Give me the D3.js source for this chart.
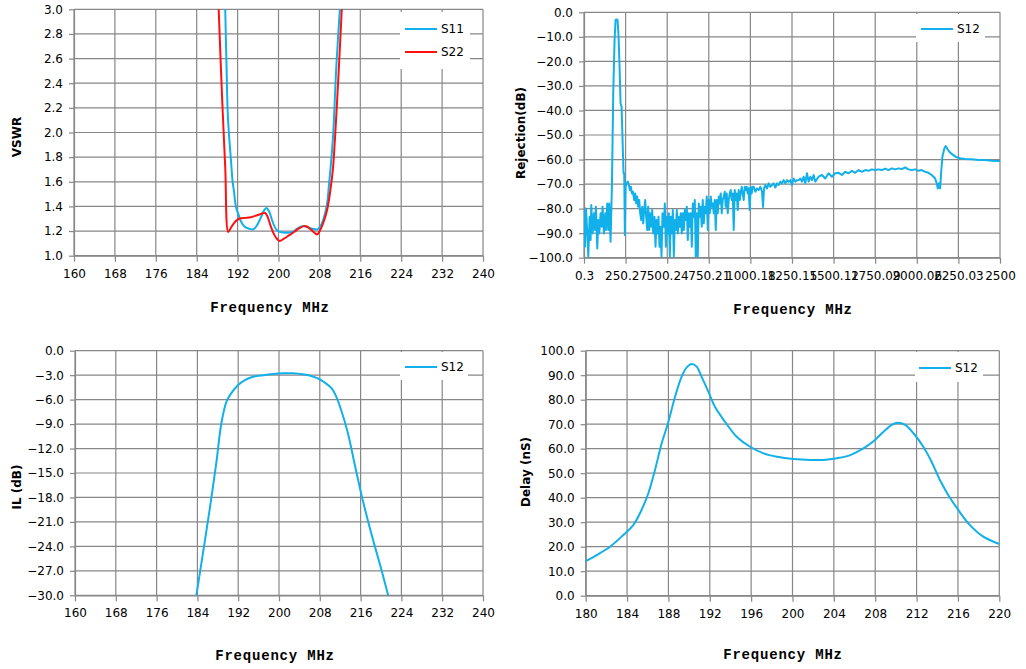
<!DOCTYPE html>
<html><head><meta charset="utf-8">
<script src="https://cdn.jsdelivr.net/npm/d3@7"></script>
<style>
body{margin:0;background:#fff;}
svg{display:block;}
.tick text{font-family:"DejaVu Sans",Verdana,sans-serif;font-size:12px;fill:#000;}
.ytitle{font-family:"DejaVu Sans",Verdana,sans-serif;font-size:12px;font-weight:bold;fill:#000;}
.xtitle{font-family:"Liberation Mono","DejaVu Sans Mono",monospace;font-size:14px;font-weight:bold;fill:#000;letter-spacing:0.8px;}
.leg{font-family:"DejaVu Sans",Verdana,sans-serif;font-size:12px;fill:#000;}
</style>
</head><body>
<svg id="c" width="1026" height="669"></svg>
<script>
// ---------- DATA ----------
// VSWR chart
const vswrS11Freq = [189.58,189.84,190.1,190.8,191.0,191.34,191.66,192.18,192.64,193.29,194.26,195.04,195.69,196.53,197.18,197.64,198.16,198.81,199.45,200.1,201.4,202.7,203.68,204.65,205.62,206.6,207.57,208.22,208.87,209.52,209.84,210.2,210.7,211.3,212.0];
const vswrS11Val  = [3.0,2.53,2.13,1.72,1.61,1.507,1.40,1.333,1.28,1.24,1.219,1.213,1.24,1.307,1.368,1.387,1.36,1.28,1.219,1.195,1.187,1.192,1.219,1.24,1.232,1.219,1.213,1.24,1.307,1.427,1.56,1.72,1.99,2.53,3.0];
const vswrS22Freq = [188.3,188.99,189.58,190.17,190.69,191.34,192.0,192.64,193.6,194.58,195.56,196.53,197.38,197.83,198.48,199.13,199.78,200.23,201.08,202.05,203.03,204.0,204.97,205.62,206.47,207.25,207.57,208.22,208.87,209.52,209.97,210.4,210.68,211.47,212.38];
const vswrS22Val  = [3.0,2.26,1.72,1.192,1.227,1.267,1.293,1.304,1.307,1.312,1.325,1.339,1.347,1.32,1.24,1.173,1.133,1.12,1.139,1.165,1.192,1.221,1.24,1.235,1.208,1.179,1.173,1.213,1.28,1.373,1.48,1.613,1.72,2.26,3.0];
const vswrXTicks = [160,168,176,184,192,200,208,216,224,232,240];
const vswrYTicks = [1.0,1.2,1.4,1.6,1.8,2.0,2.2,2.4,2.6,2.8,3.0];

// Rejection chart
const rejFreq = [0.3,6,12,20,26,34,40,44,52,60,66,72,80,86,92,100,106,112,120,128,132,140,146,152,160,168,176,184,190,196,202,208,214,220,226,232,238,242,246,250,256,264,270,276,
282,288,294,302,308,314,320,326,332,338,344,350,356,362,368,374,380,386,392,398,404,410,416,424,430,436,442,448,454,460,466,472,480,486,492,498,504,510,516,522,528,534,540,546,552,558,564,570,576,582,588,594,600,606,612,618,624,630,636,642,648,654,660,666,672,678,684,690,696,702,708,714,720,726,732,738,744,750,756,762,768,774,780,786,792,798,804,810,816,822,828,834,840,846,852,858,864,870,876,882,888,894,900,906,912,918,924,930,936,942,948,954,960,966,972,978,984,990,996,1002,1008,1014,
1020,1030,1040,1050,1060,1070,1076,1082,1090,1100,1110,1120,1130,1140,1150,1160,1170,1180,1190,1200,1210,1220,1230,1240,1250,1260,1270,1280,1290,1300,1310,1320,1330,1340,1350,1360,1370,1380,1390,1410,1430,1450,1470,1490,1510,1530,1550,1570,1590,1610,1630,1650,1670,1690,1710,1730,1750,1770,1790,1810,1830,1850,1870,1890,1910,1930,1950,1970,1990,2010,2030,2050,2070,2090,2110,2120,2126,2134,2140,2146,2154,2166,2174,2186,2200,2220,2240,2260,2290,2330,2370,2410,2450,2490,2500];
const rejVal = [-80.6,-95.5,-79.9,-90.1,-99.5,-83.3,-92.8,-78.5,-90.1,-81.9,-88.7,-79.2,-96.2,-84.6,-90.1,-81.9,-87.4,-79.2,-90.1,-81.9,-88.7,-77.9,-88.7,-77.9,-93.5,-71.1,-33.0,-11.3,-3.1,-2.9,-3.1,-9.9,-22.1,-37.1,-38.5,-52.0,-65.6,-65.6,-90.8,-71.1,-69.7,-69.0,-70.4,-72.4,
-71.1,-73.8,-73.1,-76.5,-73.8,-77.9,-75.1,-79.2,-76.5,-81.9,-84.6,-79.2,-86.0,-80.6,-76.5,-83.3,-88.7,-79.2,-88.7,-81.9,-87.4,-80.6,-90.1,-83.3,-95.5,-84.6,-90.1,-83.3,-95.5,-87.4,-99.5,-81.9,-87.4,-77.9,-95.5,-83.3,-90.1,-81.9,-99.5,-83.3,-90.1,-80.6,-99.5,-84.6,-88.7,-80.6,-90.1,-83.3,-87.4,-81.9,-90.1,-81.9,-88.7,-80.6,-84.6,-79.2,-92.8,-81.9,-87.4,-81.9,-95.5,-77.9,-83.3,-76.5,-99.5,-81.9,-99.5,-77.9,-83.3,-79.2,-87.4,-76.5,-86.0,-79.2,-81.9,-75.1,-88.7,-76.5,-81.9,-75.1,-79.2,-77.9,-81.9,-76.5,-88.7,-76.5,-81.9,-75.1,-77.9,-73.8,-81.9,-76.5,-75.1,-73.1,-79.2,-73.8,-81.9,-76.5,-73.8,-72.4,-76.5,-73.8,-88.7,-72.4,-76.5,-73.8,-80.6,-72.4,-76.5,-73.8,-71.1,-73.8,-76.5,-71.1,-72.4,-71.1,-73.8,-71.7,-80.6,-71.1,-73.8,-71.1,
-71.1,-73.1,-71.8,-72.4,-71.1,-73.1,-79.3,-71.8,-70.4,-71.8,-69.7,-71.1,-70.4,-69.7,-71.4,-69.7,-70.4,-69.0,-69.7,-68.4,-69.7,-68.4,-69.0,-68.4,-70.4,-67.7,-69.0,-68.4,-68.4,-67.7,-69.0,-67.0,-69.7,-65.6,-69.0,-67.0,-68.4,-66.3,-69.0,-67.0,-66.3,-67.7,-65.6,-67.0,-65.6,-65.4,-66.3,-65.0,-65.6,-64.6,-65.4,-64.3,-65.0,-64.3,-64.6,-64.0,-64.3,-64.0,-64.3,-63.7,-64.3,-63.6,-64.0,-63.6,-63.9,-63.2,-64.0,-64.3,-64.0,-64.6,-64.3,-65.0,-65.4,-66.3,-67.7,-69.7,-71.8,-69.7,-71.8,-65.6,-58.8,-55.4,-54.5,-55.9,-57.2,-58.2,-59.1,-59.5,-59.8,-59.9,-60.2,-60.2,-60.5,-60.6,-60.6];
const rejXTicks = [0.3,250.27,500.24,750.21,1000.18,1250.15,1500.12,1750.09,2000.06,2250.03,2500];
const rejXLabels = ["0.3","250.27","500.24","750.21","1000.18","1250.15","1500.12","1750.09","2000.06","2250.03","2500"];
const rejYTicks = [-100,-90,-80,-70,-60,-50,-40,-30,-20,-10,0];

// IL chart
const ilFreq = [183.8,185.1,186.4,187.7,188.7,189.7,190.65,192.0,193.3,194.9,196.9,198.8,200.8,202.7,204.7,206.3,207.6,208.95,210.3,211.2,212.2,213.5,214.8,216.1,217.5,218.8,220.1,221.4];
const ilVal  = [-30,-24.8,-19.5,-13.8,-8.9,-6.25,-5.2,-4.2,-3.6,-3.2,-3.0,-2.86,-2.78,-2.78,-2.9,-3.1,-3.4,-3.9,-4.6,-5.6,-7.3,-10.1,-13.8,-17.5,-21.0,-24.0,-26.9,-30];
const ilXTicks = [160,168,176,184,192,200,208,216,224,232,240];
const ilYTicks = [-30,-27,-24,-21,-18,-15,-12,-9,-6,-3,0];

// Delay chart
const dlFreq = [180,181.06,182.35,183.64,184.6,185.4,186.06,186.7,187.35,188,188.64,189.28,189.77,190.25,190.73,191.2,191.86,192.5,193.47,194.6,195.9,197.2,198.5,200.1,201.7,203,204.3,205.6,206.85,207.8,208.8,209.6,210.2,210.9,211.7,212.65,213.45,214.26,215.06,216.03,217.16,218.45,220];
const dlVal  = [14.1,16.6,20.0,24.8,28.8,35.0,41.8,51.3,62.2,71.0,81.2,89.4,93.2,94.6,93.5,89.4,83.3,77.1,71.0,64.9,60.8,58.1,56.7,55.8,55.4,55.4,56.1,57.4,60.1,62.9,66.9,69.7,70.6,69.7,66.3,60.8,54.7,47.2,41.1,35.0,28.8,24.1,21.1];
const dlXTicks = [180,184,188,192,196,200,204,208,212,216,220];
const dlYTicks = [0,10,20,30,40,50,60,70,80,90,100];

const BLUE = "#12b0ea", RED = "#ff1010", GRID = "#878787";

// ---------- DRAW ----------
const svg = d3.select("#c");
let clipId = 0;

function chart(o){
  const x = d3.scaleLinear().domain(o.xDomain).range([o.x0, o.x1]);
  const y = d3.scaleLinear().domain(o.yDomain).range([o.y1, o.y0]);
  const g = svg.append("g");
  // grid
  g.append("g").selectAll("line").data(o.xTicks).join("line")
    .attr("x1", d => x(d)).attr("x2", d => x(d)).attr("y1", o.y0).attr("y2", o.y1)
    .attr("stroke", GRID).attr("stroke-width", 1.2);
  g.append("g").selectAll("line").data(o.yTicks).join("line")
    .attr("y1", d => y(d)).attr("y2", d => y(d)).attr("x1", o.x0).attr("x2", o.x1)
    .attr("stroke", GRID).attr("stroke-width", 1.2);
  // axes
  const xa = d3.axisBottom(x).tickValues(o.xTicks).tickSize(6).tickSizeOuter(0).tickPadding(7)
    .tickFormat(o.xFmt);
  const ya = d3.axisLeft(y).tickValues(o.yTicks).tickSize(5).tickSizeOuter(0).tickPadding(o.yPad)
    .tickFormat(d => d3.format(".1f")(d));
  const gx = g.append("g").attr("transform", `translate(0,${o.y1})`).call(xa);
  const gy = g.append("g").attr("transform", `translate(${o.x0},0)`).call(ya);
  [gx, gy].forEach(a => { a.selectAll("path,line").attr("stroke", GRID).attr("stroke-width", 1.2); });
  gx.selectAll("text").attr("dy", "0.75em");
  // legend box
  g.append("rect").attr("x", o.leg.x).attr("y", o.leg.y).attr("width", o.leg.w).attr("height", o.leg.h).attr("fill", "#fff");
  // series
  const id = "clip" + (clipId++);
  svg.append("clipPath").attr("id", id).append("rect")
    .attr("x", o.x0).attr("y", o.y0 - 1).attr("width", o.x1 - o.x0).attr("height", o.y1 - o.y0 + 2);
  o.series.forEach((s, i) => {
    const pts = s.fx.map((f, k) => [f, s.vy[k]]);
    const line = d3.line().x(d => x(d[0])).y(d => y(d[1])).curve(s.curve || d3.curveLinear);
    g.append("path").attr("clip-path", `url(#${id})`).attr("d", line(pts))
      .attr("fill", "none").attr("stroke", s.color).attr("stroke-width", 2).attr("stroke-linejoin", "round");
    const ly = o.leg.ly + i * o.leg.dy;
    g.append("line").attr("x1", o.leg.lx).attr("x2", o.leg.lx + 32).attr("y1", ly).attr("y2", ly)
      .attr("stroke", s.color).attr("stroke-width", 2);
    g.append("text").attr("class", "leg").attr("x", o.leg.lx + 36).attr("y", ly).attr("dy", "0.35em").text(s.name);
  });
  // titles
  g.append("text").attr("class", "xtitle").attr("x", o.xt[0]).attr("y", o.xt[1]).attr("text-anchor", "middle")
    .attr("dy", "0.35em").text("Frequency MHz");
  g.append("text").attr("class", "ytitle").attr("text-anchor", "middle").attr("dy", "0.35em")
    .attr("transform", `translate(${o.yt[0]},${o.yt[1]}) rotate(-90)`).text(o.yTitle);
}

chart({
  xDomain:[160,240], yDomain:[1,3], x0:74, x1:483, y0:9.3, y1:255.7,
  xTicks:vswrXTicks, yTicks:vswrYTicks, xFmt:d => d, yPad:6,
  series:[{name:"S11", fx:vswrS11Freq, vy:vswrS11Val, color:BLUE, curve:d3.curveCatmullRom},
          {name:"S22", fx:vswrS22Freq, vy:vswrS22Val, color:RED, curve:d3.curveCatmullRom}],
  leg:{x:400, y:12, w:70, h:57, lx:405, ly:29, dy:23},
  xt:[270,307], yt:[17,137], yTitle:"VSWR"
});

chart({
  xDomain:[0.3,2500], yDomain:[-100,0], x0:584, x1:1000, y0:12.3, y1:257.7,
  xTicks:rejXTicks, yTicks:rejYTicks, xFmt:(d, i) => rejXLabels[i], yPad:6,
  series:[{name:"S12", fx:rejFreq, vy:rejVal, color:BLUE}],
  leg:{x:916, y:14, w:69, h:28, lx:921, ly:29, dy:23},
  xt:[793,309], yt:[521,133], yTitle:"Rejection(dB)"
});

chart({
  xDomain:[160,240], yDomain:[-30,0], x0:75, x1:483, y0:350.7, y1:595.3,
  xTicks:ilXTicks, yTicks:ilYTicks, xFmt:d => d, yPad:6,
  series:[{name:"S12", fx:ilFreq, vy:ilVal, color:BLUE, curve:d3.curveCatmullRom}],
  leg:{x:400, y:352, w:68, h:28, lx:405, ly:367, dy:23},
  xt:[275,655], yt:[17,487], yTitle:"IL (dB)"
});

chart({
  xDomain:[180,220], yDomain:[0,100], x0:585.7, x1:999.3, y0:350.7, y1:595.7,
  xTicks:dlXTicks, yTicks:dlYTicks, xFmt:d => d, yPad:6,
  series:[{name:"S12", fx:dlFreq, vy:dlVal, color:BLUE, curve:d3.curveCatmullRom}],
  leg:{x:915, y:352, w:68, h:30, lx:919, ly:368, dy:23},
  xt:[783,654], yt:[526,472], yTitle:"Delay (nS)"
});
</script>
</body></html>
